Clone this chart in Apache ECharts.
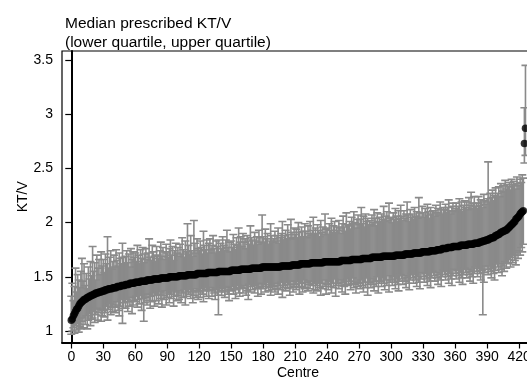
<!DOCTYPE html>
<html>
<head>
<meta charset="utf-8">
<script src="https://cdn.jsdelivr.net/npm/echarts@6/dist/echarts.min.js"></script>
<style>
html,body{margin:0;padding:0;background:#fff;}
#chart{width:527px;height:377px;}
</style>
</head>
<body>
<div id="chart"></div>
<script>
// Median prescribed KT/V per centre (sorted), with lower and upper quartile
const medianKtv = [
1.10,1.11,1.14,1.16,1.18,1.20,1.21,1.23,1.25,1.26,
1.27,1.28,1.29,1.29,1.30,1.31,1.31,1.32,1.32,1.33,
1.33,1.34,1.34,1.35,1.35,1.35,1.36,1.36,1.36,1.37,
1.37,1.37,1.38,1.38,1.38,1.39,1.39,1.39,1.39,1.40,
1.40,1.40,1.40,1.41,1.41,1.41,1.41,1.42,1.42,1.42,
1.42,1.43,1.43,1.43,1.43,1.44,1.44,1.44,1.44,1.44,
1.45,1.45,1.45,1.45,1.45,1.46,1.46,1.46,1.46,1.46,
1.46,1.47,1.47,1.47,1.47,1.47,1.47,1.48,1.48,1.48,
1.48,1.48,1.48,1.48,1.49,1.49,1.49,1.49,1.49,1.49,
1.49,1.49,1.50,1.50,1.50,1.50,1.50,1.50,1.50,1.50,
1.50,1.51,1.51,1.51,1.51,1.51,1.51,1.51,1.51,1.52,
1.52,1.52,1.52,1.52,1.52,1.52,1.52,1.52,1.53,1.53,
1.53,1.53,1.53,1.53,1.53,1.53,1.53,1.53,1.54,1.54,
1.54,1.54,1.54,1.54,1.54,1.54,1.54,1.54,1.55,1.55,
1.55,1.55,1.55,1.55,1.55,1.55,1.55,1.55,1.55,1.55,
1.56,1.56,1.56,1.56,1.56,1.56,1.56,1.56,1.56,1.57,
1.57,1.57,1.57,1.57,1.57,1.57,1.57,1.57,1.57,1.58,
1.58,1.58,1.58,1.58,1.58,1.58,1.58,1.58,1.58,1.59,
1.59,1.59,1.59,1.59,1.59,1.59,1.59,1.59,1.59,1.59,
1.59,1.59,1.59,1.59,1.59,1.59,1.59,1.60,1.60,1.60,
1.60,1.60,1.60,1.60,1.60,1.60,1.60,1.61,1.61,1.61,
1.61,1.61,1.61,1.61,1.61,1.62,1.62,1.62,1.62,1.62,
1.62,1.62,1.62,1.62,1.62,1.63,1.63,1.63,1.63,1.63,
1.63,1.63,1.63,1.63,1.63,1.63,1.63,1.64,1.64,1.64,
1.64,1.64,1.64,1.64,1.64,1.64,1.64,1.64,1.64,1.64,
1.64,1.64,1.64,1.65,1.65,1.65,1.65,1.65,1.65,1.65,
1.65,1.65,1.65,1.66,1.66,1.66,1.66,1.66,1.66,1.66,
1.66,1.66,1.66,1.67,1.67,1.67,1.67,1.67,1.67,1.67,
1.67,1.67,1.68,1.68,1.68,1.68,1.68,1.68,1.68,1.68,
1.68,1.68,1.69,1.69,1.69,1.69,1.69,1.69,1.69,1.69,
1.69,1.69,1.69,1.69,1.70,1.70,1.70,1.70,1.70,1.70,
1.70,1.70,1.70,1.71,1.71,1.71,1.71,1.71,1.71,1.71,
1.71,1.72,1.72,1.72,1.72,1.72,1.72,1.72,1.72,1.73,
1.73,1.73,1.73,1.73,1.73,1.73,1.73,1.74,1.74,1.74,
1.74,1.74,1.74,1.75,1.75,1.75,1.75,1.75,1.76,1.76,
1.76,1.76,1.76,1.77,1.77,1.77,1.77,1.77,1.78,1.78,
1.78,1.78,1.78,1.78,1.78,1.79,1.79,1.79,1.79,1.79,
1.79,1.79,1.80,1.80,1.80,1.80,1.80,1.80,1.81,1.81,
1.81,1.81,1.81,1.82,1.82,1.82,1.83,1.83,1.83,1.84,
1.84,1.84,1.85,1.85,1.86,1.86,1.86,1.87,1.88,1.88,
1.89,1.89,1.90,1.91,1.91,1.92,1.92,1.93,1.93,1.94,
1.95,1.96,1.97,1.98,1.99,2.00,2.01,2.03,2.04,2.05,
2.06,2.08,2.09,2.10,2.11,2.73,2.87
];
const upperQuartile = [
1.32,1.44,1.28,1.41,1.58,1.36,1.52,1.47,1.40,1.55,
1.67,1.46,1.62,1.42,1.53,1.39,1.59,1.48,1.64,1.51,
1.78,1.55,1.63,1.47,1.70,1.58,1.66,1.52,1.73,1.60,
1.66,1.54,1.71,1.62,1.87,1.58,1.68,1.74,1.57,1.64,
1.70,1.59,1.75,1.65,1.60,1.72,1.67,1.62,1.81,1.68,
1.62,1.69,1.74,1.63,1.71,1.59,1.76,1.66,1.73,1.68,
1.72,1.64,1.79,1.70,1.62,1.75,1.67,1.77,1.63,1.71,
1.76,1.66,1.72,1.85,1.68,1.65,1.79,1.73,1.69,1.64,
1.78,1.70,1.67,1.74,1.82,1.69,1.77,1.66,1.73,1.80,
1.72,1.68,1.76,1.84,1.70,1.78,1.65,1.74,1.81,1.72,
1.77,1.69,1.80,1.71,1.86,1.75,1.68,1.83,1.73,1.99,
1.79,1.71,1.88,1.74,1.69,2.02,1.81,1.72,1.85,1.76,
1.74,1.83,1.77,1.71,1.92,1.79,1.75,1.84,1.72,1.81,
1.85,1.75,1.79,1.88,1.76,1.72,1.83,1.78,1.84,1.73,
1.81,1.76,1.87,1.79,1.74,1.84,1.93,1.77,1.82,1.73,
1.83,1.77,1.89,1.80,1.75,1.86,1.79,1.95,1.82,1.87,
1.78,1.90,1.82,1.85,1.76,1.88,1.83,1.80,1.97,1.86,
1.84,1.79,1.91,1.83,1.87,1.80,1.93,1.86,1.82,2.07,
1.87,1.81,1.94,1.85,1.90,1.80,1.83,1.99,1.88,1.82,
1.85,1.92,1.83,1.88,1.95,1.81,1.86,1.90,2.01,1.84,
1.88,1.93,1.84,1.98,1.89,1.85,2.03,1.91,1.86,1.95,
1.89,1.94,1.85,2.00,1.91,1.86,1.96,1.92,1.87,1.99,
1.92,1.86,1.97,1.90,2.01,1.88,1.93,2.05,1.89,1.95,
1.90,1.98,1.93,1.87,2.02,1.91,1.96,1.89,2.08,1.94,
1.95,1.89,1.99,1.93,2.04,1.90,1.97,2.01,1.91,1.96,
1.93,2.02,1.95,1.90,1.99,2.06,1.96,1.92,2.09,1.98,
1.97,2.01,1.94,2.05,1.99,2.10,2.00,1.95,2.03,2.07,
1.98,2.03,2.14,1.99,2.06,1.96,2.08,2.01,2.04,1.97,
2.02,1.98,2.07,2.00,2.12,2.04,1.97,2.09,2.01,2.05,
2.00,2.08,2.03,2.15,2.01,2.06,2.10,2.02,2.18,2.04,
2.05,2.00,2.09,2.03,2.13,2.06,2.01,2.11,2.04,2.16,
2.06,2.02,2.11,2.04,2.08,2.19,2.07,2.01,2.12,2.05,
2.08,2.03,2.14,2.06,2.10,2.04,2.23,2.09,2.05,2.15,
2.09,2.05,2.13,2.07,2.17,2.10,2.04,2.14,2.08,2.11,
2.11,2.06,2.16,2.09,2.13,2.07,2.19,2.12,2.08,2.14,
2.12,2.17,2.09,2.14,2.21,2.11,2.08,2.15,2.18,2.10,
2.13,2.18,2.11,2.15,2.22,2.12,2.19,2.10,2.16,2.20,
2.14,2.19,2.12,2.23,2.16,2.28,2.13,2.18,2.24,2.15,
2.18,2.13,2.24,2.16,2.21,2.19,2.14,2.26,2.20,2.17,
2.22,2.56,2.19,2.27,2.23,2.30,2.20,2.25,2.32,2.24,
2.27,2.33,2.24,2.36,2.29,2.34,2.28,2.39,2.31,2.35,
2.33,2.37,2.30,2.40,2.35,2.38,2.34,2.31,2.42,2.36,
2.34,2.40,2.37,2.44,2.41,3.06,3.45
];
const lowerQuartile = [
0.97,1.00,1.03,0.98,1.05,1.01,1.07,0.99,1.04,1.02,
1.09,1.03,1.12,1.06,1.14,1.02,1.10,1.16,1.05,1.11,
1.12,1.18,1.08,1.15,1.21,1.10,1.17,1.20,1.09,1.14,
1.19,1.13,1.17,1.23,1.10,1.20,1.25,1.15,1.22,1.18,
1.24,1.17,1.22,1.27,1.19,1.14,1.23,1.29,1.07,1.21,
1.26,1.21,1.29,1.18,1.27,1.23,1.31,1.16,1.24,1.28,
1.27,1.32,1.22,1.29,1.25,1.33,1.19,1.30,1.09,1.26,
1.31,1.24,1.34,1.28,1.21,1.32,1.27,1.35,1.23,1.33,
1.28,1.34,1.25,1.36,1.30,1.22,1.33,1.29,1.37,1.24,
1.31,1.35,1.26,1.34,1.30,1.37,1.23,1.32,1.36,1.28,
1.33,1.29,1.37,1.26,1.35,1.31,1.38,1.24,1.32,1.36,
1.34,1.38,1.30,1.36,1.26,1.33,1.39,1.31,1.37,1.29,
1.36,1.31,1.39,1.34,1.27,1.37,1.40,1.32,1.38,1.30,
1.37,1.40,1.32,1.38,1.35,1.29,1.39,1.33,1.15,1.36,
1.39,1.33,1.37,1.41,1.31,1.36,1.40,1.34,1.28,1.38,
1.37,1.41,1.34,1.39,1.30,1.38,1.42,1.35,1.32,1.40,
1.40,1.35,1.39,1.42,1.33,1.37,1.29,1.43,1.36,1.41,
1.38,1.42,1.35,1.43,1.39,1.32,1.40,1.44,1.34,1.41,
1.39,1.43,1.36,1.41,1.45,1.37,1.40,1.33,1.42,1.38,
1.41,1.36,1.44,1.39,1.34,1.42,1.38,1.45,1.31,1.40,
1.42,1.37,1.45,1.39,1.43,1.33,1.40,1.46,1.36,1.41,
1.43,1.38,1.46,1.40,1.34,1.44,1.41,1.36,1.47,1.39,
1.40,1.45,1.37,1.43,1.39,1.46,1.42,1.35,1.44,1.38,
1.42,1.37,1.45,1.40,1.33,1.44,1.39,1.47,1.41,1.34,
1.43,1.38,1.46,1.41,1.35,1.44,1.40,1.48,1.32,1.42,
1.44,1.39,1.47,1.42,1.36,1.45,1.41,1.34,1.43,1.48,
1.42,1.46,1.38,1.44,1.49,1.40,1.43,1.35,1.45,1.41,
1.44,1.39,1.47,1.42,1.36,1.45,1.40,1.49,1.33,1.43,
1.45,1.40,1.48,1.43,1.37,1.46,1.41,1.50,1.35,1.44,
1.46,1.41,1.49,1.44,1.38,1.47,1.42,1.51,1.36,1.45,
1.47,1.42,1.50,1.45,1.39,1.48,1.43,1.37,1.46,1.52,
1.48,1.43,1.51,1.46,1.40,1.49,1.44,1.38,1.47,1.53,
1.49,1.44,1.52,1.47,1.41,1.50,1.45,1.39,1.48,1.54,
1.50,1.45,1.53,1.48,1.42,1.51,1.46,1.40,1.49,1.55,
1.51,1.46,1.54,1.49,1.43,1.52,1.47,1.41,1.50,1.56,
1.52,1.47,1.55,1.50,1.44,1.53,1.48,1.42,1.51,1.57,
1.53,1.48,1.56,1.51,1.45,1.54,1.49,1.43,1.52,1.58,
1.54,1.49,1.57,1.52,1.46,1.55,1.50,1.44,1.53,1.59,
1.55,1.50,1.58,1.53,1.47,1.56,1.15,1.45,1.54,1.60,
1.57,1.52,1.60,1.55,1.49,1.58,1.53,1.47,1.56,1.62,
1.59,1.54,1.62,1.57,1.51,1.60,1.55,1.64,1.58,1.63,
1.62,1.66,1.59,1.68,1.63,1.70,1.65,1.61,1.72,1.67,
1.74,1.70,1.77,1.73,1.80,2.55,2.62
];
const xTicks = [0,30,60,90,120,150,180,210,240,270,300,330,360,390,420];
const yTicks = [1,1.5,2,2.5,3,3.5];
const titleText = 'Median prescribed KT/V\n(lower quartile, upper quartile)';

const FONT = '"Liberation Sans", Arial, sans-serif';
const barColor = '#8a8a8a';

const barData = medianKtv.map((m, i) => [i, lowerQuartile[i], upperQuartile[i]]);
const pointData = medianKtv.map((m, i) => [i, m]);

const chart = echarts.init(document.getElementById('chart'));
chart.setOption({
  animation: false,
  backgroundColor: '#fff',
  title: {
    text: titleText,
    left: 60, top: 9,
    textStyle: {fontFamily: FONT, fontSize: 15.5, fontWeight: 'normal', color: '#000', lineHeight: 19}
  },
  grid: {
    left: 62, top: 51, width: 472, height: 291.5,
    outerBoundsMode: 'none',
    containLabel: false,
    show: true, borderColor: '#000', borderWidth: 1.2, backgroundColor: 'transparent'
  },
  xAxis: {
    type: 'value', min: -8.7, max: 434,
    name: 'Centre', nameLocation: 'middle', nameGap: 24, nameMoveOverlap: false,
    nameTextStyle: {fontFamily: FONT, fontSize: 14, color: '#000'},
    axisLine: {show: true, lineStyle: {color: '#000', width: 2}},
    axisTick: {show: true, length: 6, lineStyle: {color: '#000', width: 1.2}, customValues: xTicks},
    axisLabel: {fontFamily: FONT, fontSize: 14, color: '#000', margin: 8, customValues: xTicks},
    splitLine: {show: false}
  },
  yAxis: {
    type: 'value', min: 0.894, max: 3.583,
    name: 'KT/V', nameLocation: 'middle', nameGap: 32, nameRotate: 90, nameMoveOverlap: false,
    nameTextStyle: {fontFamily: FONT, fontSize: 14, color: '#000'},
    axisLine: {show: true, lineStyle: {color: '#000', width: 2}},
    axisTick: {show: true, length: 6, lineStyle: {color: '#000', width: 1.2}, customValues: yTicks},
    axisLabel: {fontFamily: FONT, fontSize: 14, color: '#000', margin: 9, customValues: yTicks},
    splitLine: {show: false}
  },
  series: [
    {
      type: 'custom',
      data: barData,
      clip: true,
      z: 2,
      renderItem: function (params, api) {
        const x = api.value(0);
        const lo = api.coord([x, api.value(1)]);
        const hi = api.coord([x, api.value(2)]);
        const hw = 4;
        const style = {stroke: barColor, lineWidth: 1.6, fill: null};
        return {
          type: 'group',
          children: [
            {type: 'line', shape: {x1: lo[0], y1: lo[1], x2: hi[0], y2: hi[1]}, style: style},
            {type: 'line', shape: {x1: hi[0] - hw, y1: hi[1], x2: hi[0] + hw, y2: hi[1]}, style: style},
            {type: 'line', shape: {x1: lo[0] - hw, y1: lo[1], x2: lo[0] + hw, y2: lo[1]}, style: style}
          ]
        };
      }
    },
    {
      type: 'scatter',
      data: pointData,
      symbol: 'circle',
      symbolSize: 7.5,
      itemStyle: {color: '#000'},
      z: 3,
      clip: true
    }
  ]
});
</script>
</body>
</html>
